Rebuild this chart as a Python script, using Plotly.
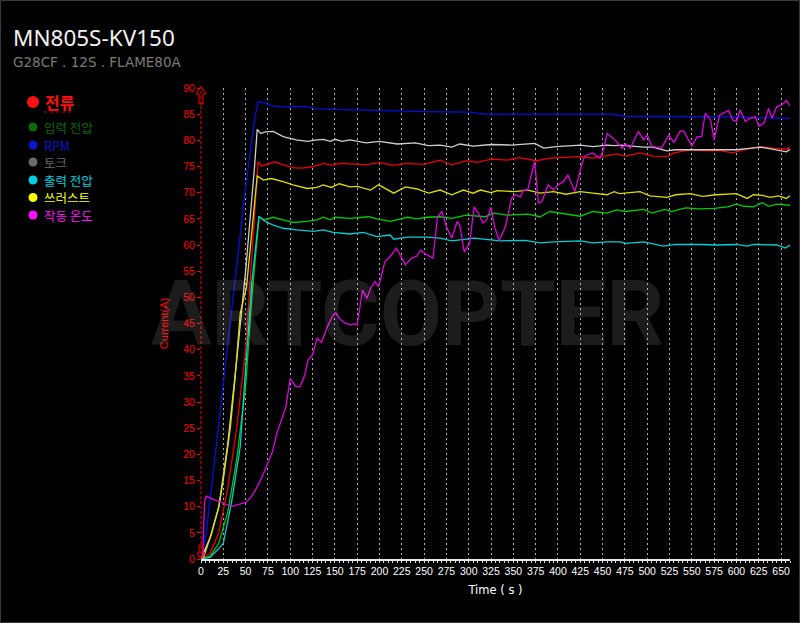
import plotly.graph_objects as go

# ---------------- data ----------------
series_names = ["전류", "입력 전압", "RPM", "토크", "출력 전압", "쓰러스트", "작동 온도"]

t_current = [0,10,20,30,40,50,57,64,68,73,83,92,103,113,126,137,146,155,167,185,200,215,230,250,268,281,297,310,325,343,356,376,391,409,425,439,455,466,476,492,506,522,530,548,565,580,596,608,627,640,656,660]
v_current = [0,1,5,13.5,25,40,58,75.9,75.1,75.3,75.9,75.3,74.8,74.7,75,75.6,75.2,75.6,75.5,75.3,75.8,75.2,75.6,75.4,76.2,75.3,76.1,75.8,76.4,76.2,76.7,76.1,76.6,76.7,76.9,76.6,77,77.4,77,77.6,77,76.9,77.6,78.2,78,78.1,77.6,78.2,78.8,78.5,78.3,78.7]

t_vin = [0,10,20,30,40,50,57,65,70,81,92,103,119,130,137,145,150,167,188,197,212,231,242,253,268,281,297,318,328,343,366,380,391,409,425,439,455,466,476,496,505,520,527,543,558,575,590,600,608,619,629,636,645,660]
v_vin = [0,0.5,3,9,19,33,50,65.4,64.8,65.3,64.8,64.3,64.5,64.8,65.3,64.8,65.3,65.1,65.4,65.0,64.5,65.3,65.0,65.3,65.4,65.1,65.7,65.4,66.1,65.7,65.9,65.4,66.4,65.9,65.5,66.4,66.1,66.7,66.4,66.8,66.1,66.8,66.4,67.1,66.9,67.0,67.3,67.8,67.4,67.3,68.1,67.4,67.8,67.6]

t_rpm = [0,5,10,20,30,40,50,60,64,70,80,90,100,120,130,150,170,200,250,300,320,400,460,475,550,600,620,660]
v_rpm = [0,4,11,26,41,56,71,84,87.4,87.2,86.6,86.4,86.5,86.4,86.0,85.9,85.8,85.7,85.5,85.4,85.0,85.0,85.0,84.6,84.6,84.5,84.3,84.2]

t_torque = [0,10,20,30,40,50,60,63,67,72,81,92,107,119,130,137,145,150,158,167,185,200,220,240,255,268,281,290,305,325,348,361,374,384,398,425,439,455,463,470,496,506,522,532,548,562,584,600,612,627,640,656,660]
v_torque = [0,4,10,22,38,55,75,82.1,81.3,81.6,81.7,80.7,80.1,79.8,80.1,80.2,79.8,80.2,79.8,80.1,79.5,79.8,79.3,79.5,79.0,79.1,78.7,79.3,78.9,79.2,79.1,79.3,79.4,78.5,78.8,79.1,78.8,79.1,79.0,79.1,78.7,78.7,78.0,78.2,78.2,78.3,78.3,78.2,78.4,78.7,78.3,77.8,78.3]

t_vout = [0,10,20,25,34,44,49,57,65,72,81,92,107,126,137,148,167,182,197,212,216,231,253,268,281,306,335,363,380,395,425,439,455,470,476,496,518,532,562,577,600,612,619,630,645,655,660]
v_vout = [0,0.3,2,3,10.6,21.5,34,53,65.5,64.5,63.8,63.2,62.9,62.6,62.9,62.4,62.1,62.4,61.6,61.9,61.1,61.5,61.5,61.3,60.8,61.3,60.8,60.9,60.4,60.6,60.8,60.4,60.6,60.6,60.3,60.6,59.8,60.1,60.1,60.0,60.1,59.8,60.1,60.0,60.0,59.4,60.0]

t_thrust = [0,3,12,20,25,33,38,44,51,57,63,70,79,92,103,119,130,137,146,155,167,175,190,199,216,229,242,255,268,281,294,305,313,325,332,351,366,380,395,409,425,439,455,463,469,492,503,522,532,548,562,577,600,612,619,629,638,647,656,660]
v_thrust = [0,0.4,4.9,10,15.1,25.3,34.2,47,52,62,73.2,72.4,72.7,72.1,71.5,70.8,71.0,71.5,71.0,71.7,71.1,71.2,70.5,71.5,69.9,71.1,70.7,69.9,70.5,69.6,70.5,69.9,70.5,70.0,70.4,70.2,70.5,69.9,70.2,69.7,70.2,69.9,69.6,70.2,69.8,70.2,69.4,69.1,69.6,69.8,69.3,69.6,69.8,68.9,69.6,69.5,69.1,69.4,68.9,69.4]

t_temp = [0,2,4,6,15,25,34,42,50,56,62,68,74,80,85,90,95,100,106,111,116,120,125,130,135,142,148,151,156,162,167,172,175,181,186,190,195,199,206,212,219,225,229,236,242,246,253,260,265,270,275,281,287,290,295,301,306,311,316,320,325,329,334,341,348,352,358,361,366,371,374,378,382,389,395,400,406,411,416,419,425,429,432,439,444,447,451,455,460,466,472,476,481,490,496,500,505,516,524,530,537,541,550,556,561,565,571,575,581,591,596,600,604,610,615,621,625,631,636,640,645,651,656,660]
v_temp = [0,1,11,12,11.3,10.7,10,10.4,10.8,11.8,13.5,15.5,18,20.5,24,26.5,29,34.5,33,32.9,35,38,39,42.2,41.4,44.5,46.6,47,45.8,45,44.8,44.9,44.7,51.4,49.8,51.7,53,52,56.8,57.8,59.4,57.5,56.2,57.5,57.9,59,58.1,57.5,65.4,66.4,63.5,61.3,64.5,63.8,58.7,60.3,67.3,66,64.2,64.8,67.2,63.5,60.8,63.5,68.9,69.6,69.2,70.5,70.5,74,75.9,68,68.3,71.5,70.5,71.5,72.1,73.4,71.5,70.2,74.3,76.6,77.2,77.6,76.9,76.6,78.2,81.3,80.7,79.7,78.5,79.3,78.5,81.7,80.1,81,78.9,78.5,81,79.6,81.8,81.7,78.9,80.7,80.7,85.2,83.9,80.1,84.8,85.7,83.9,83.6,85.8,83.6,84.2,84.5,82.7,83.3,86.1,84.2,86.4,86.8,87.6,86.6]

x_ticks = list(range(0, 651, 25))
y_ticks = list(range(0, 91, 5))

series_t = [t_current, t_vin, t_rpm, t_torque, t_vout, t_thrust, t_temp]
series_v = [v_current, v_vin, v_rpm, v_torque, v_vout, v_thrust, v_temp]
for a, b in zip(series_t, series_v):
    assert len(a) == len(b), (len(a), len(b))

# ---------------- styles ----------------
line_colors = ["#ee0000", "#00cc00", "#0010e0", "#cfcfcf", "#00d0d8", "#dede00", "#e000e0"]
legend_colors = ["#ff1010", "#0a6a0a", "#0a14c8", "#6a6a6a", "#00d2e0", "#ffff00", "#ff10ff"]

W, H = 800, 623
L, R, T, B = 201, 10, 88, 64
PW, PH = W - L - R, H - T - B


def px(xp):
    return (xp - L) / PW


def py(yp):
    return (H - B - yp) / PH


fig = go.Figure()
for name, tt, vv, c in zip(series_names, series_t, series_v, line_colors):
    fig.add_trace(go.Scatter(x=tt, y=vv, mode="lines", name=name,
                             line=dict(color=c, width=1.3), showlegend=False))

shapes = []
annotations = []

# thin frame around the picture
shapes.append(dict(type="rect", xref="paper", yref="paper", x0=px(0.5), x1=px(799.5), y0=py(622.5), y1=py(0.5),
                   line=dict(color="#3a3a3a", width=1), layer="below"))
# dashed red y axis line
shapes.append(dict(type="line", xref="paper", yref="paper", x0=0, x1=0, y0=0, y1=1,
                   line=dict(color="#ff0000", width=1, dash="3px,2px"), layer="above"))
# open arrow at top of y axis
ax0 = [(201, 86), (196, 94), (199, 94), (199, 104), (203, 104), (203, 94), (206, 94)]
path = "M " + " L ".join(f"{px(a):.5f},{py(b):.5f}" for a, b in ax0) + " Z"
shapes.append(dict(type="path", xref="paper", yref="paper", path=path,
                   line=dict(color="#ff0000", width=1), layer="above"))
# small arrow at origin
ax1 = [(201, 559), (197, 553), (199, 553), (199, 545), (203, 545), (203, 553), (205, 553)]
path = "M " + " L ".join(f"{px(a):.5f},{py(b):.5f}" for a, b in ax1) + " Z"
shapes.append(dict(type="path", xref="paper", yref="paper", path=path,
                   line=dict(color="#ff0000", width=1), layer="above"))

# legend (custom)
leg_y = [102, 127, 145, 162, 180, 197.5, 215]
for i, (name, c, yy) in enumerate(zip(series_names, legend_colors, leg_y)):
    r = 6 if i == 0 else 4.5
    shapes.append(dict(type="circle", xref="paper", yref="paper", xsizemode="pixel", ysizemode="pixel",
                       xanchor=px(33), yanchor=py(yy), x0=-r, x1=r, y0=-r, y1=r,
                       fillcolor=c, line=dict(width=0)))
    annotations.append(dict(xref="paper", yref="paper", x=px(42 if i else 43), y=py(yy),
                            xanchor="left", yanchor="middle", showarrow=False,
                            text=f"<b>{name}</b>" if i == 0 else name,
                            font=dict(family="Noto Sans CJK KR", size=16 if i == 0 else 12.5, color=c)))
shapes.append(dict(type="line", xref="paper", yref="paper", x0=px(44), x1=px(70), y0=py(112), y1=py(112),
                   line=dict(color="#cc0000", width=1, dash="dot")))

# titles
annotations.append(dict(xref="paper", yref="paper", x=px(11), y=py(37), xanchor="left", yanchor="middle",
                        showarrow=False, text="MN805S-KV150",
                        font=dict(family="Noto Sans", size=22.5, color="#f2f2f2")))
annotations.append(dict(xref="paper", yref="paper", x=px(11), y=py(62), xanchor="left", yanchor="middle",
                        showarrow=False, text="G28CF . 12S . FLAME80A",
                        font=dict(family="DejaVu Sans", size=13.5, color="#7c7c7c")))
# watermark
annotations.append(dict(xref="paper", yref="paper", x=px(407), y=py(314), xanchor="center", yanchor="middle",
                        showarrow=False, text="<b>ARTCOPTER</b>",
                        font=dict(family="Roboto", size=90, color="rgba(255,255,255,0.11)")))

fig.update_layout(
    width=W, height=H,
    paper_bgcolor="black", plot_bgcolor="black",
    margin=dict(l=L, r=R, t=T, b=B),
    showlegend=False,
    shapes=shapes, annotations=annotations,
    font=dict(family="Liberation Sans"),
    xaxis=dict(
        range=[0, 660],
        tickmode="array",
        tickvals=list(range(0, 661, 5)),
        ticktext=[str(v) if v in x_ticks else "" for v in range(0, 661, 5)],
        ticks="outside", ticklen=2, tickcolor="#dddddd", tickwidth=1,
        tickfont=dict(color="white", size=10.5, family="Liberation Sans"),
        showgrid=False, zeroline=False,
        showline=True, linecolor="#e8e8e8", linewidth=1.5,
        minor=dict(tickmode="array", tickvals=x_ticks[1:], showgrid=True, gridcolor="#b0b0b0",
                   griddash="2px,3px", gridwidth=1, ticks=""),
        title=dict(text="Time ( s )", font=dict(color="white", size=11.5, family="DejaVu Sans"), standoff=10),
    ),
    yaxis=dict(
        range=[0, 90],
        tickmode="array", tickvals=y_ticks,
        ticks="outside", ticklen=3, tickcolor="#ff0000",
        tickfont=dict(color="#ff0000", size=10.5, family="Liberation Sans"),
        showgrid=False, zeroline=False, showline=False,
        title=dict(text="Current(A)", font=dict(color="#ff0000", size=11, family="Liberation Sans"), standoff=12),
    ),
)

fig.write_html("out.html", config={"displayModeBar": False},
               post_script="document.body.style.margin='0';document.body.style.background='black';")
